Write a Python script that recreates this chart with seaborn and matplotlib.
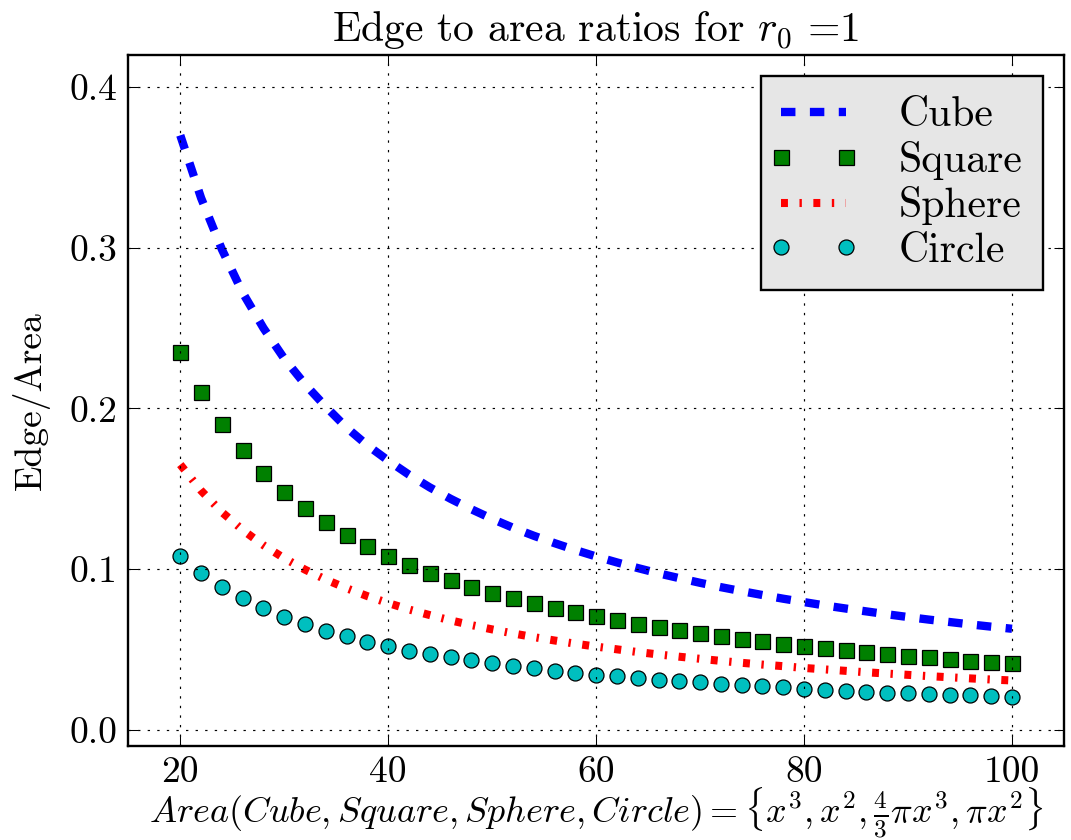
import matplotlib
matplotlib.use("Agg")
import matplotlib.pyplot as plt
from matplotlib.lines import Line2D
from matplotlib.legend_handler import HandlerLine2D
import pandas as pd
import seaborn as sns

# ---- data ----
area = list(range(20, 101, 2))

cube = [0.370, 0.331, 0.299, 0.272, 0.250, 0.231, 0.215, 0.201, 0.188, 0.177,
        0.1675, 0.1587, 0.1508, 0.1437, 0.1372, 0.1312, 0.1257, 0.1207, 0.1161, 0.1118,
        0.1078, 0.1041, 0.1006, 0.0973, 0.0943, 0.0914, 0.0887, 0.0862, 0.0838, 0.0815,
        0.0794, 0.0773, 0.0754, 0.0736, 0.0718, 0.0701, 0.0685, 0.0670, 0.0655, 0.0641,
        0.0628]

square = [0.235, 0.210, 0.190, 0.174, 0.160, 0.148, 0.138, 0.129, 0.121, 0.1145,
          0.108, 0.1027, 0.0975, 0.093, 0.089, 0.085, 0.0817, 0.0786, 0.0757, 0.073,
          0.0705, 0.068, 0.0657, 0.0637, 0.0618, 0.0599, 0.0583, 0.0566, 0.055, 0.0535,
          0.052, 0.0508, 0.0493, 0.0483, 0.047, 0.046, 0.045, 0.0439, 0.0429, 0.0422,
          0.0414]

sphere = [0.165, 0.1488, 0.1354, 0.1243, 0.1148, 0.1067, 0.0996, 0.0934, 0.0880, 0.0831,
          0.0788, 0.0748, 0.0713, 0.0680, 0.0651, 0.0624, 0.0599, 0.0576, 0.0555, 0.0535,
          0.0517, 0.0500, 0.0483, 0.0468, 0.0454, 0.0441, 0.0428, 0.0416, 0.0405, 0.0395,
          0.0384, 0.0375, 0.0366, 0.0357, 0.0349, 0.0341, 0.0333, 0.0326, 0.0319, 0.0312,
          0.0306]

circle = [0.1083, 0.0975, 0.089, 0.0817, 0.0755, 0.0703, 0.0657, 0.0616, 0.058, 0.0547,
          0.052, 0.0491, 0.047, 0.045, 0.0431, 0.0412, 0.0396, 0.0381, 0.0367, 0.0354,
          0.0341, 0.0331, 0.0319, 0.031, 0.0302, 0.0294, 0.0285, 0.0279, 0.0271, 0.0265,
          0.0254, 0.0248, 0.024, 0.0234, 0.0229, 0.0226, 0.0221, 0.0215, 0.0213, 0.0209,
          0.0202]

series_names = ["Cube", "Square", "Sphere", "Circle"]
x_ticks = [20, 40, 60, 80, 100]
y_ticks = [0.0, 0.1, 0.2, 0.3, 0.4]

df = pd.DataFrame({"area": area, "Cube": cube, "Square": square,
                   "Sphere": sphere, "Circle": circle})

plt.rcParams.update({
    "font.family": "serif",
    "font.serif": ["cmr10"],
    "mathtext.fontset": "cm",
    "axes.unicode_minus": False,
    "axes.formatter.use_mathtext": True,
    "lines.scale_dashes": False,
})

fig = plt.figure(figsize=(10.71, 8.4), dpi=100)
ax = fig.add_axes([128.3 / 1071, 1 - 745.7 / 840, (1064 - 128.3) / 1071, (745.7 - 55) / 840])

sns.lineplot(data=df, x="area", y="Cube", ax=ax, color=(0, 0, 1), linewidth=6,
             linestyle=(0, (10.4, 10.4)), label=series_names[0])
sns.lineplot(data=df, x="area", y="Square", ax=ax, color=(0, 0.5, 0), linestyle="None",
             marker="s", markersize=10.8, markeredgecolor="k", markeredgewidth=0.9,
             label=series_names[1])
sns.lineplot(data=df, x="area", y="Sphere", ax=ax, color=(1, 0, 0), linewidth=5.8,
             linestyle=(0, (5, 8.3, 1.7, 8.3)), label=series_names[2])
sns.lineplot(data=df, x="area", y="Circle", ax=ax, color=(0, 0.75, 0.75), linestyle="None",
             marker="o", markersize=10.8, markeredgecolor="k", markeredgewidth=0.9,
             label=series_names[3])

ax.set_xlim(15, 105)
ax.set_ylim(-0.01, 0.42)
ax.set_xticks(x_ticks)
ax.set_yticks(y_ticks)
ax.set_xticklabels([str(v) for v in x_ticks])
ax.set_yticklabels([f"{v:.1f}" for v in y_ticks])
ax.tick_params(direction="in", length=7.2, width=0.75, top=True, right=True,
               labelsize=27, pad=8)
ax.tick_params(axis="x", pad=7)
for s in ax.spines.values():
    s.set_linewidth(1.7)
ax.set_axisbelow(False)
ax.grid(True, color="k", linewidth=0.85, linestyle=(0, (1.7, 5.2)))

ax.set_title(r"Edge to area ratios for $r_0$ =1", fontsize=30, pad=10)
ax.set_ylabel("Edge/Area", fontsize=27, labelpad=14)
ax.set_xlabel(r"$Area(Cube, Square, Sphere, Circle) = \{x^3, x^2, \frac{4}{3}\pi x^3, \pi x^2\}$",
              fontsize=26, labelpad=-2)

leg = ax.legend(loc="upper right", numpoints=2, fontsize=30, fancybox=False,
                framealpha=1, facecolor=(0.9, 0.9, 0.9), edgecolor="k",
                handlelength=1.56, handletextpad=1.25, borderaxespad=0.5,
                labelspacing=0.16, borderpad=0.5,
                handler_map={Line2D: HandlerLine2D(marker_pad=0)})
leg.get_frame().set_linewidth(1.7)

fig.savefig("out.png", dpi=100)
